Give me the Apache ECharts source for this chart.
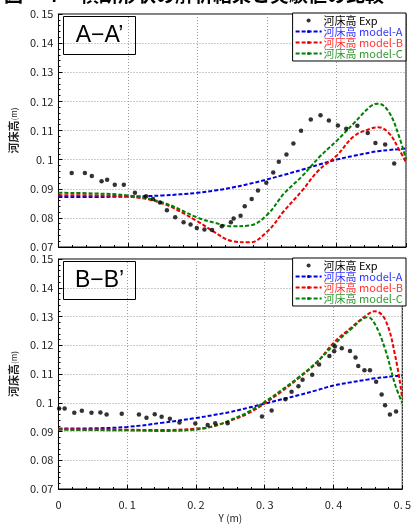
<!DOCTYPE html>
<html>
<head>
<meta charset="utf-8">
<script src="https://cdn.jsdelivr.net/npm/echarts@6/dist/echarts.min.js"></script>
<style>
html, body {margin: 0; padding: 0; background: #fff;}
#chart {width: 414px; height: 524px;}
</style>
</head>
<body>
<div id="chart"></div>
<script>
// --- data ---
const model_x = [0, 0.05, 0.1, 0.15, 0.2, 0.225, 0.25, 0.275, 0.3, 0.325, 0.35, 0.375, 0.4, 0.425, 0.45, 0.46, 0.475, 0.49, 0.5];

// section A-A'
const a_exp_x = [0.019, 0.038, 0.048, 0.062, 0.070, 0.081, 0.094, 0.110, 0.126, 0.136, 0.146, 0.156, 0.168, 0.180, 0.190, 0.199, 0.210, 0.221, 0.235, 0.248, 0.252, 0.262, 0.268, 0.278, 0.287, 0.299, 0.309, 0.317, 0.328, 0.338, 0.349, 0.363, 0.377, 0.389, 0.402, 0.414, 0.430, 0.445, 0.456, 0.470, 0.483];
const a_exp_y = [0.0954, 0.0954, 0.0944, 0.0926, 0.0931, 0.0914, 0.0914, 0.0886, 0.0874, 0.0865, 0.0853, 0.0826, 0.0802, 0.0785, 0.0777, 0.0765, 0.0760, 0.0758, 0.0771, 0.0785, 0.0798, 0.0807, 0.0840, 0.0865, 0.0894, 0.0921, 0.0956, 0.0993, 0.1018, 0.1055, 0.1099, 0.1138, 0.1152, 0.1134, 0.1117, 0.1106, 0.1116, 0.1091, 0.1057, 0.1052, 0.0987];
const a_model_a = [0.0872, 0.0872, 0.0873, 0.0877, 0.0886, 0.0894, 0.0904, 0.0917, 0.0932, 0.0948, 0.0965, 0.0983, 0.1000, 0.1013, 0.1025, 0.1029, 0.1033, 0.1036, 0.1038];
const a_model_b = [0.0878, 0.0877, 0.0873, 0.0849, 0.0788, 0.0750, 0.0720, 0.0716, 0.0752, 0.0825, 0.0892, 0.0965, 0.1013, 0.1080, 0.1107, 0.1111, 0.1092, 0.1035, 0.0990];
const a_model_c = [0.0886, 0.0884, 0.0877, 0.0853, 0.0801, 0.0783, 0.0771, 0.0774, 0.0810, 0.0885, 0.0942, 0.1008, 0.1064, 0.1125, 0.1185, 0.1192, 0.1165, 0.1080, 0.1000];

// section B-B'
const b_exp_x = [0.001, 0.009, 0.023, 0.034, 0.048, 0.061, 0.070, 0.092, 0.117, 0.128, 0.140, 0.150, 0.162, 0.176, 0.199, 0.217, 0.228, 0.246, 0.296, 0.310, 0.330, 0.339, 0.349, 0.355, 0.369, 0.379, 0.394, 0.401, 0.402, 0.412, 0.424, 0.432, 0.436, 0.445, 0.453, 0.462, 0.470, 0.475, 0.482, 0.491];
const b_exp_y = [0.0980, 0.0980, 0.0965, 0.0972, 0.0965, 0.0966, 0.0959, 0.0962, 0.0959, 0.0948, 0.0960, 0.0951, 0.0944, 0.0931, 0.0928, 0.0923, 0.0929, 0.0929, 0.0952, 0.0973, 0.1012, 0.1038, 0.1057, 0.1080, 0.1097, 0.1133, 0.1163, 0.1179, 0.1196, 0.1190, 0.1180, 0.1157, 0.1128, 0.1113, 0.1113, 0.1073, 0.1029, 0.0991, 0.0959, 0.0970];
const b_model_a = [0.0910, 0.0911, 0.0916, 0.0930, 0.0947, 0.0957, 0.0968, 0.0982, 0.0997, 0.1012, 0.1027, 0.1043, 0.1060, 0.1071, 0.1081, 0.1085, 0.1089, 0.1093, 0.1095];
const b_model_b = [0.0908, 0.0907, 0.0906, 0.0905, 0.0910, 0.0918, 0.0938, 0.0962, 0.0998, 0.1040, 0.1087, 0.1138, 0.1208, 0.1260, 0.1308, 0.1318, 0.1290, 0.1160, 0.1015];
const b_model_c = [0.0906, 0.0905, 0.0904, 0.0902, 0.0907, 0.0918, 0.0940, 0.0967, 0.1003, 0.1045, 0.1090, 0.1140, 0.1200, 0.1255, 0.1297, 0.1275, 0.1187, 0.1060, 0.1000];

const series_names = ['河床高 Exp', '河床高 model-A', '河床高 model-B', '河床高 model-C'];
const series_colors = ['#000000', '#0000dd', '#ee0000', '#008000'];
const text_colors = ['#000000', '#3333ff', '#ff3333', '#339933'];
const x_ticks = [0, 0.1, 0.2, 0.3, 0.4, 0.5];
const y_ticks = [0.07, 0.08, 0.09, 0.1, 0.11, 0.12, 0.13, 0.14, 0.15];
const section_labels = ['A\u2212A\u2019', 'B\u2212B\u2019'];
const title_text = '図－４　横断形状の解析結果と実験値の比較';

const font = '"Noto Sans CJK JP", "DejaVu Sans", sans-serif';

function zip(xs, ys) {
    return xs.map((x, i) => [x, ys[i]]);
}
function fmt(v) {
    // matches the "0. 15" look of the original
    return String(+v.toFixed(2)).replace('.', '.\u2009');
}

const grids = [
    {left: 56, right: 8, top: 14, height: 233},
    {left: 56, right: 8, top: 259, height: 231},
];
const blocks = [
    {exp: zip(a_exp_x, a_exp_y), models: [a_model_a, a_model_b, a_model_c]},
    {exp: zip(b_exp_x, b_exp_y), models: [b_model_a, b_model_b, b_model_c]},
];

var chart_el = document.getElementById('chart');
var chart = echarts.init(chart_el, null, {renderer: 'canvas'});

var x_axes = grids.map((g, i) => ({
    type: 'value', gridIndex: i,
    min: x_ticks[0], max: x_ticks[x_ticks.length - 1], interval: 0.1,
    name: i === 1 ? 'Y (m)' : '',
    nameLocation: 'middle', nameGap: 24,
    nameTextStyle: {fontFamily: font, fontSize: 10, color: '#222'},
    axisLine: {show: true, lineStyle: {color: '#000', width: 1}},
    axisTick: {show: true, inside: true, length: 4, lineStyle: {color: '#000'}},
    minorTick: {show: true, splitNumber: 5, length: 2, lineStyle: {color: '#000'}},
    axisLabel: {show: i === 1, formatter: fmt, fontFamily: font, fontSize: 11, color: '#222', margin: 10},
    splitLine: {show: true, lineStyle: {color: '#999', type: [1, 2], width: 1}},
}));
var y_axes = grids.map((g, i) => ({
    type: 'value', gridIndex: i,
    min: y_ticks[0], max: y_ticks[y_ticks.length - 1], interval: 0.01,
    name: '{a|河床高}{b|(m)}',
    nameLocation: 'middle', nameGap: 32, nameRotate: 90,
    nameTextStyle: {rich: {
        a: {fontFamily: font, fontSize: 11, color: '#222', fontWeight: 'bold'},
        b: {fontFamily: font, fontSize: 8, color: '#222'},
    }},
    axisLine: {show: true, lineStyle: {color: '#000', width: 1}},
    axisTick: {show: true, inside: true, length: 4, lineStyle: {color: '#000'}},
    minorTick: {show: true, splitNumber: 5, length: 2, lineStyle: {color: '#000'}},
    axisLabel: {formatter: fmt, fontFamily: font, fontSize: 11, color: '#222', margin: 5},
    splitLine: {show: true, lineStyle: {color: '#999', type: [1, 2], width: 1}},
}));

var series = [];
blocks.forEach((b, i) => {
    series.push({
        name: series_names[0], type: 'scatter', xAxisIndex: i, yAxisIndex: i,
        data: b.exp, symbol: 'circle', symbolSize: 4.5,
        itemStyle: {color: series_colors[0]}, z: 5,
    });
    b.models.forEach((m, j) => {
        series.push({
            name: series_names[j + 1], type: 'line', xAxisIndex: i, yAxisIndex: i,
            data: zip(model_x, m), smooth: 0.4, symbol: 'none',
            lineStyle: {color: series_colors[j + 1], width: 2, type: [4, 2]},
            itemStyle: {color: series_colors[j + 1]},
        });
    });
});

var legends = grids.map((g, i) => ({
    show: true, orient: 'vertical', selectedMode: false,
    right: 8, top: g.top - 1, itemWidth: 26, itemHeight: 4, itemGap: 0,
    padding: [2, 3, 2, 2],
    backgroundColor: '#fff', borderColor: '#000', borderWidth: 1,
    textStyle: {fontFamily: font, fontSize: 11, padding: [0, 0, 0, -3]},
    data: series_names.map((n, j) => ({
        name: n,
        textStyle: {color: text_colors[j]},
        icon: j === 0 ? 'circle' : undefined,
    })),
}));

var graphics = [{
    type: 'text', left: 4, top: -15,
    style: {text: title_text, font: 'bold 19px ' + font, fill: '#000'},
}];
grids.forEach((g, i) => {
    graphics.push({
        type: 'group', left: 63, top: g.top + 2,
        children: [
            {type: 'rect', shape: {x: 0, y: 0, width: 72, height: 38},
             style: {fill: '#fff', stroke: '#000', lineWidth: 1}},
            {type: 'text', x: 36, y: 19,
             style: {text: section_labels[i], font: '23px "Liberation Sans", Arial, sans-serif', fill: '#000', align: 'center', verticalAlign: 'middle'}},
        ],
    });
});

var echarts_conf = {
    animation: false,
    backgroundColor: '#fff',
    grid: grids.map(g => Object.assign({show: true, borderColor: '#000', borderWidth: 1, backgroundColor: 'transparent'}, g)),
    xAxis: x_axes,
    yAxis: y_axes,
    legend: legends,
    series: series,
    graphic: graphics,
};
chart.setOption(echarts_conf);
</script>
</body>
</html>
